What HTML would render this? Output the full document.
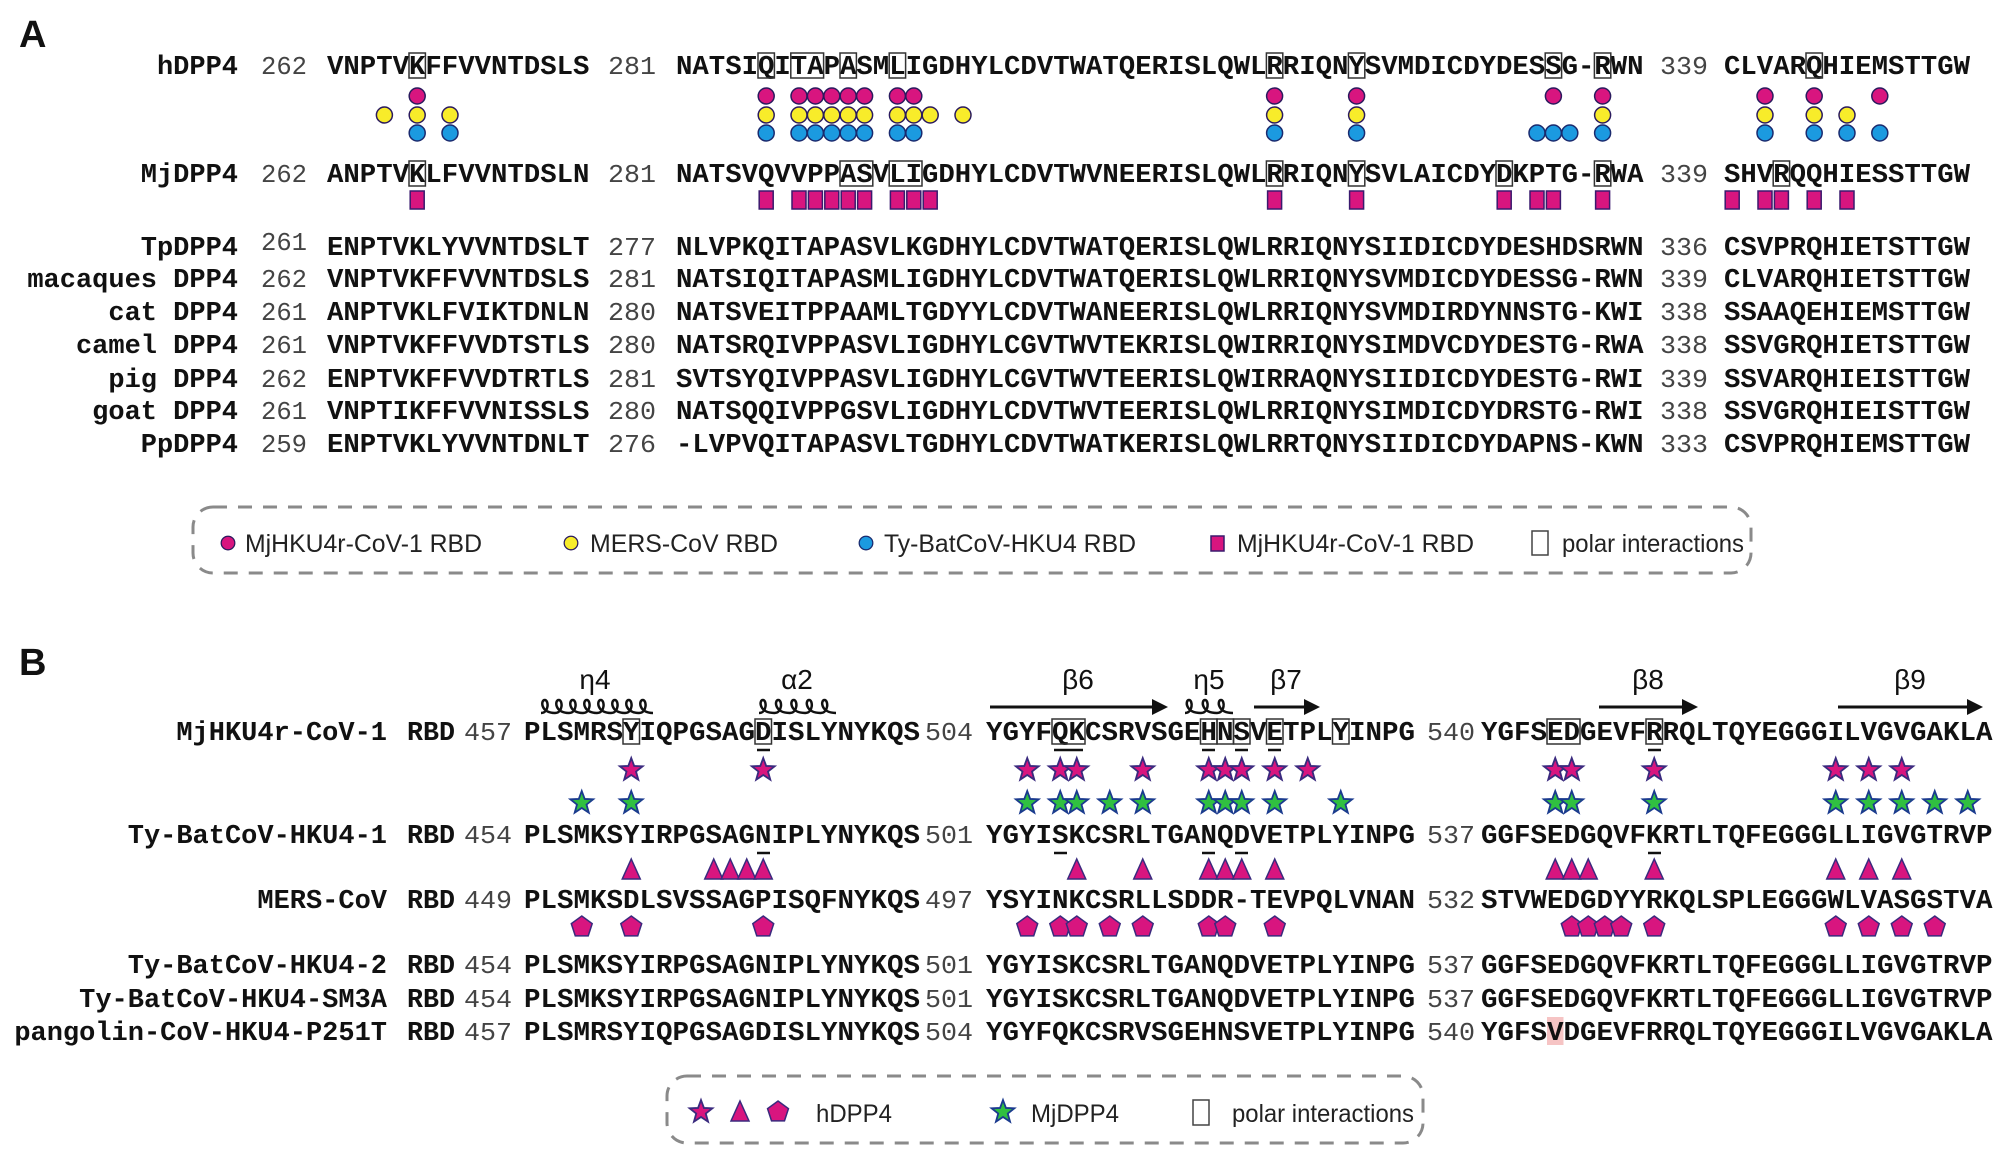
<!DOCTYPE html>
<html><head><meta charset="utf-8"><style>
html,body{margin:0;padding:0;background:#fff}
svg{display:block}
.s{font-family:"Liberation Mono",monospace;font-weight:bold;font-size:27px;fill:#111}
.n{font-family:"Liberation Mono",monospace;font-size:26px;fill:#444}
.nm{font-family:"Liberation Mono",monospace;font-weight:bold;font-size:27px;fill:#111}
.L{font-family:"Liberation Sans",sans-serif;font-size:25px;fill:#222}
.ss{font-family:"Liberation Sans",sans-serif;font-size:28px;fill:#111}
.P{font-family:"Liberation Sans",sans-serif;font-weight:bold;font-size:38px;fill:#111}
.bx{fill:none;stroke:#333;stroke-width:1.5}
.ul{stroke:#111;stroke-width:2.5}
</style></head><body>
<svg width="2008" height="1166" viewBox="0 0 2008 1166" xmlns="http://www.w3.org/2000/svg">
<defs>
<circle id="cm" r="8" fill="#d8157f" stroke="#2a1a5e" stroke-width="1.5"/>
<circle id="cy" r="8" fill="#f8ec2a" stroke="#2a1a5e" stroke-width="1.5"/>
<circle id="cb" r="8" fill="#1b9ae0" stroke="#1a2a6e" stroke-width="1.5"/>
<rect id="sq" x="-7" y="-9" width="14" height="18" fill="#d8157f" stroke="#3a1a6e" stroke-width="1.5"/>
<path id="stm" d="M0,-12 L2.94,-4.05 L11.41,-3.71 L4.76,1.55 L7.05,9.71 L0,5 L-7.05,9.71 L-4.76,1.55 L-11.41,-3.71 L-2.94,-4.05 Z" fill="#d8157f" stroke="#3a2a7e" stroke-width="1.8"/>
<path id="stg" d="M0,-12 L2.94,-4.05 L11.41,-3.71 L4.76,1.55 L7.05,9.71 L0,5 L-7.05,9.71 L-4.76,1.55 L-11.41,-3.71 L-2.94,-4.05 Z" fill="#30c040" stroke="#1a3a8e" stroke-width="1.8"/>
<path id="tr" d="M0,-11 L9,9 L-9,9 Z" fill="#d8157f" stroke="#3a2a7e" stroke-width="1.5"/>
<path id="pe" d="M0,-11 L10.46,-3.4 L6.47,8.9 L-6.47,8.9 L-10.46,-3.4 Z" fill="#d8157f" stroke="#3a2a7e" stroke-width="1.5"/>
</defs>

<!-- Panel A -->
<text class="P" x="19" y="47">A</text>

<g text-anchor="end">
<text class="nm" x="238" y="74">hDPP4</text>
<text class="nm" x="238" y="182">MjDPP4</text>
<text class="nm" x="238" y="255">TpDPP4</text>
<text class="nm" x="238" y="287">macaques DPP4</text>
<text class="nm" x="238" y="320">cat DPP4</text>
<text class="nm" x="238" y="353">camel DPP4</text>
<text class="nm" x="238" y="387">pig DPP4</text>
<text class="nm" x="238" y="419">goat DPP4</text>
<text class="nm" x="238" y="452">PpDPP4</text>
</g>

<g class="n">
<text x="261" y="74" textLength="46" lengthAdjust="spacingAndGlyphs">262</text>
<text x="608" y="74" textLength="48" lengthAdjust="spacingAndGlyphs">281</text>
<text x="1660" y="74" textLength="48" lengthAdjust="spacingAndGlyphs">339</text>
<text x="261" y="182" textLength="46" lengthAdjust="spacingAndGlyphs">262</text>
<text x="608" y="182" textLength="48" lengthAdjust="spacingAndGlyphs">281</text>
<text x="1660" y="182" textLength="48" lengthAdjust="spacingAndGlyphs">339</text>
<text x="261" y="250" textLength="46" lengthAdjust="spacingAndGlyphs">261</text>
<text x="608" y="255" textLength="48" lengthAdjust="spacingAndGlyphs">277</text>
<text x="1660" y="255" textLength="48" lengthAdjust="spacingAndGlyphs">336</text>
<text x="261" y="287" textLength="46" lengthAdjust="spacingAndGlyphs">262</text>
<text x="608" y="287" textLength="48" lengthAdjust="spacingAndGlyphs">281</text>
<text x="1660" y="287" textLength="48" lengthAdjust="spacingAndGlyphs">339</text>
<text x="261" y="320" textLength="46" lengthAdjust="spacingAndGlyphs">261</text>
<text x="608" y="320" textLength="48" lengthAdjust="spacingAndGlyphs">280</text>
<text x="1660" y="320" textLength="48" lengthAdjust="spacingAndGlyphs">338</text>
<text x="261" y="353" textLength="46" lengthAdjust="spacingAndGlyphs">261</text>
<text x="608" y="353" textLength="48" lengthAdjust="spacingAndGlyphs">280</text>
<text x="1660" y="353" textLength="48" lengthAdjust="spacingAndGlyphs">338</text>
<text x="261" y="387" textLength="46" lengthAdjust="spacingAndGlyphs">262</text>
<text x="608" y="387" textLength="48" lengthAdjust="spacingAndGlyphs">281</text>
<text x="1660" y="387" textLength="48" lengthAdjust="spacingAndGlyphs">339</text>
<text x="261" y="419" textLength="46" lengthAdjust="spacingAndGlyphs">261</text>
<text x="608" y="419" textLength="48" lengthAdjust="spacingAndGlyphs">280</text>
<text x="1660" y="419" textLength="48" lengthAdjust="spacingAndGlyphs">338</text>
<text x="261" y="452" textLength="46" lengthAdjust="spacingAndGlyphs">259</text>
<text x="608" y="452" textLength="48" lengthAdjust="spacingAndGlyphs">276</text>
<text x="1660" y="452" textLength="48" lengthAdjust="spacingAndGlyphs">333</text>
</g>

<g class="s">
<text x="327" y="74" textLength="262.4" lengthAdjust="spacingAndGlyphs">VNPTVKFFVVNTDSLS</text>
<text x="676" y="74" textLength="967.6" lengthAdjust="spacingAndGlyphs">NATSIQITAPASMLIGDHYLCDVTWATQERISLQWLRRIQNYSVMDICDYDESSG-RWN</text>
<text x="1724" y="74" textLength="246" lengthAdjust="spacingAndGlyphs">CLVARQHIEMSTTGW</text>
<text x="327" y="182" textLength="262.4" lengthAdjust="spacingAndGlyphs">ANPTVKLFVVNTDSLN</text>
<text x="676" y="182" textLength="967.6" lengthAdjust="spacingAndGlyphs">NATSVQVVPPASVLIGDHYLCDVTWVNEERISLQWLRRIQNYSVLAICDYDKPTG-RWA</text>
<text x="1724" y="182" textLength="246" lengthAdjust="spacingAndGlyphs">SHVRQQHIESSTTGW</text>
<text x="327" y="255" textLength="262.4" lengthAdjust="spacingAndGlyphs">ENPTVKLYVVNTDSLT</text>
<text x="676" y="255" textLength="967.6" lengthAdjust="spacingAndGlyphs">NLVPKQITAPASVLKGDHYLCDVTWATQERISLQWLRRIQNYSIIDICDYDESHDSRWN</text>
<text x="1724" y="255" textLength="246" lengthAdjust="spacingAndGlyphs">CSVPRQHIETSTTGW</text>
<text x="327" y="287" textLength="262.4" lengthAdjust="spacingAndGlyphs">VNPTVKFFVVNTDSLS</text>
<text x="676" y="287" textLength="967.6" lengthAdjust="spacingAndGlyphs">NATSIQITAPASMLIGDHYLCDVTWATQERISLQWLRRIQNYSVMDICDYDESSG-RWN</text>
<text x="1724" y="287" textLength="246" lengthAdjust="spacingAndGlyphs">CLVARQHIETSTTGW</text>
<text x="327" y="320" textLength="262.4" lengthAdjust="spacingAndGlyphs">ANPTVKLFVIKTDNLN</text>
<text x="676" y="320" textLength="967.6" lengthAdjust="spacingAndGlyphs">NATSVEITPPAAMLTGDYYLCDVTWANEERISLQWLRRIQNYSVMDIRDYNNSTG-KWI</text>
<text x="1724" y="320" textLength="246" lengthAdjust="spacingAndGlyphs">SSAAQEHIEMSTTGW</text>
<text x="327" y="353" textLength="262.4" lengthAdjust="spacingAndGlyphs">VNPTVKFFVVDTSTLS</text>
<text x="676" y="353" textLength="967.6" lengthAdjust="spacingAndGlyphs">NATSRQIVPPASVLIGDHYLCGVTWVTEKRISLQWIRRIQNYSIMDVCDYDESTG-RWA</text>
<text x="1724" y="353" textLength="246" lengthAdjust="spacingAndGlyphs">SSVGRQHIETSTTGW</text>
<text x="327" y="387" textLength="262.4" lengthAdjust="spacingAndGlyphs">ENPTVKFFVVDTRTLS</text>
<text x="676" y="387" textLength="967.6" lengthAdjust="spacingAndGlyphs">SVTSYQIVPPASVLIGDHYLCGVTWVTEERISLQWIRRAQNYSIIDICDYDESTG-RWI</text>
<text x="1724" y="387" textLength="246" lengthAdjust="spacingAndGlyphs">SSVARQHIEISTTGW</text>
<text x="327" y="419" textLength="262.4" lengthAdjust="spacingAndGlyphs">VNPTIKFFVVNISSLS</text>
<text x="676" y="419" textLength="967.6" lengthAdjust="spacingAndGlyphs">NATSQQIVPPGSVLIGDHYLCDVTWVTEERISLQWLRRIQNYSIMDICDYDRSTG-RWI</text>
<text x="1724" y="419" textLength="246" lengthAdjust="spacingAndGlyphs">SSVGRQHIEISTTGW</text>
<text x="327" y="452" textLength="262.4" lengthAdjust="spacingAndGlyphs">ENPTVKLYVVNTDNLT</text>
<text x="676" y="452" textLength="967.6" lengthAdjust="spacingAndGlyphs">-LVPVQITAPASVLTGDHYLCDVTWATKERISLQWLRRTQNYSIIDICDYDAPNS-KWN</text>
<text x="1724" y="452" textLength="246" lengthAdjust="spacingAndGlyphs">CSVPRQHIEMSTTGW</text>
</g>

<g class="bx">
<rect x="409" y="53" width="16.4" height="25"/>
<rect x="758" y="53" width="16.4" height="25"/>
<rect x="790.8" y="53" width="32.8" height="25"/>
<rect x="840" y="53" width="16.4" height="25"/>
<rect x="889.2" y="53" width="16.4" height="25"/>
<rect x="1266.4" y="53" width="16.4" height="25"/>
<rect x="1348.4" y="53" width="16.4" height="25"/>
<rect x="1545.2" y="53" width="16.4" height="25"/>
<rect x="1594.4" y="53" width="16.4" height="25"/>
<rect x="1806" y="53" width="16.4" height="25"/>
<rect x="409" y="161" width="16.4" height="25"/>
<rect x="840" y="161" width="32.8" height="25"/>
<rect x="889.2" y="161" width="32.8" height="25"/>
<rect x="1266.4" y="161" width="16.4" height="25"/>
<rect x="1348.4" y="161" width="16.4" height="25"/>
<rect x="1496" y="161" width="16.4" height="25"/>
<rect x="1594.4" y="161" width="16.4" height="25"/>
<rect x="1773.2" y="161" width="16.4" height="25"/>
</g>

<g>
<use href="#cm" x="417.2" y="96"/>
<use href="#cm" x="766.2" y="96"/><use href="#cm" x="799" y="96"/><use href="#cm" x="815.4" y="96"/><use href="#cm" x="831.8" y="96"/><use href="#cm" x="848.2" y="96"/><use href="#cm" x="864.6" y="96"/><use href="#cm" x="897.4" y="96"/><use href="#cm" x="913.8" y="96"/>
<use href="#cm" x="1274.6" y="96"/><use href="#cm" x="1356.6" y="96"/><use href="#cm" x="1553.4" y="96"/><use href="#cm" x="1602.6" y="96"/>
<use href="#cm" x="1765" y="96"/><use href="#cm" x="1814.2" y="96"/><use href="#cm" x="1879.8" y="96"/>

<use href="#cy" x="384.4" y="115"/><use href="#cy" x="417.2" y="115"/><use href="#cy" x="450" y="115"/>
<use href="#cy" x="766.2" y="115"/><use href="#cy" x="799" y="115"/><use href="#cy" x="815.4" y="115"/><use href="#cy" x="831.8" y="115"/><use href="#cy" x="848.2" y="115"/><use href="#cy" x="864.6" y="115"/><use href="#cy" x="897.4" y="115"/><use href="#cy" x="913.8" y="115"/><use href="#cy" x="930.2" y="115"/><use href="#cy" x="963" y="115"/>
<use href="#cy" x="1274.6" y="115"/><use href="#cy" x="1356.6" y="115"/><use href="#cy" x="1602.6" y="115"/>
<use href="#cy" x="1765" y="115"/><use href="#cy" x="1814.2" y="115"/><use href="#cy" x="1847" y="115"/>

<use href="#cb" x="417.2" y="133"/><use href="#cb" x="450" y="133"/>
<use href="#cb" x="766.2" y="133"/><use href="#cb" x="799" y="133"/><use href="#cb" x="815.4" y="133"/><use href="#cb" x="831.8" y="133"/><use href="#cb" x="848.2" y="133"/><use href="#cb" x="864.6" y="133"/><use href="#cb" x="897.4" y="133"/><use href="#cb" x="913.8" y="133"/>
<use href="#cb" x="1274.6" y="133"/><use href="#cb" x="1356.6" y="133"/><use href="#cb" x="1537" y="133"/><use href="#cb" x="1553.4" y="133"/><use href="#cb" x="1569.8" y="133"/><use href="#cb" x="1602.6" y="133"/>
<use href="#cb" x="1765" y="133"/><use href="#cb" x="1814.2" y="133"/><use href="#cb" x="1847" y="133"/><use href="#cb" x="1879.8" y="133"/>
</g>

<g>
<use href="#sq" x="417.2" y="200"/>
<use href="#sq" x="766.2" y="200"/><use href="#sq" x="799" y="200"/><use href="#sq" x="815.4" y="200"/><use href="#sq" x="831.8" y="200"/><use href="#sq" x="848.2" y="200"/><use href="#sq" x="864.6" y="200"/><use href="#sq" x="897.4" y="200"/><use href="#sq" x="913.8" y="200"/><use href="#sq" x="930.2" y="200"/>
<use href="#sq" x="1274.6" y="200"/><use href="#sq" x="1356.6" y="200"/><use href="#sq" x="1504.2" y="200"/><use href="#sq" x="1537" y="200"/><use href="#sq" x="1553.4" y="200"/><use href="#sq" x="1602.6" y="200"/>
<use href="#sq" x="1732.2" y="200"/><use href="#sq" x="1765" y="200"/><use href="#sq" x="1781.4" y="200"/><use href="#sq" x="1814.2" y="200"/><use href="#sq" x="1847" y="200"/>
</g>

<rect x="193" y="507" width="1558" height="66" rx="20" fill="none" stroke="#8a8a8a" stroke-width="3" stroke-dasharray="14 11"/>
<use href="#cm" x="228" y="543" transform="translate(228 543) scale(0.85) translate(-228 -543)"/>
<text class="L" x="245" y="552" textLength="237" lengthAdjust="spacingAndGlyphs">MjHKU4r-CoV-1 RBD</text>
<use href="#cy" x="571" y="543" transform="translate(571 543) scale(0.85) translate(-571 -543)"/>
<text class="L" x="590" y="552" textLength="188" lengthAdjust="spacingAndGlyphs">MERS-CoV RBD</text>
<use href="#cb" x="866" y="543" transform="translate(866 543) scale(0.85) translate(-866 -543)"/>
<text class="L" x="884" y="552" textLength="252" lengthAdjust="spacingAndGlyphs">Ty-BatCoV-HKU4 RBD</text>
<rect x="1211" y="536" width="13" height="15" fill="#d8157f" stroke="#3a1a6e" stroke-width="1.5"/>
<text class="L" x="1237" y="552" textLength="237" lengthAdjust="spacingAndGlyphs">MjHKU4r-CoV-1 RBD</text>
<rect x="1532" y="531" width="16" height="24" fill="none" stroke="#444" stroke-width="1.5"/>
<text class="L" x="1562" y="552" textLength="182" lengthAdjust="spacingAndGlyphs">polar interactions</text>

<!-- Panel B -->
<text class="P" x="19" y="675">B</text>

<g class="ss" text-anchor="middle">
<text x="595" y="689">η4</text>
<text x="797" y="689">α2</text>
<text x="1078" y="689">β6</text>
<text x="1209" y="689">η5</text>
<text x="1286" y="689">β7</text>
<text x="1648" y="689">β8</text>
<text x="1910" y="689">β9</text>
</g>
<g fill="none" stroke="#111" stroke-width="2.5">
<path d="M541,713 C549,713 549,700 544.75,700 C540.5,700 540.5,713 555,713 C563,713 563,700 558.75,700 C554.5,700 554.5,713 569,713 C577,713 577,700 572.75,700 C568.5,700 568.5,713 583,713 C591,713 591,700 586.75,700 C582.5,700 582.5,713 597,713 C605,713 605,700 600.75,700 C596.5,700 596.5,713 611,713 C619,713 619,700 614.75,700 C610.5,700 610.5,713 625,713 C633,713 633,700 628.75,700 C624.5,700 624.5,713 639,713 C647,713 647,700 642.75,700 C638.5,700 638.5,713 653,713"/>
<path d="M759,713 C767,713 767,700 762.9,700 C758.8,700 758.8,713 774.4,713 C782.4,713 782.4,700 778.3,700 C774.2,700 774.2,713 789.8,713 C797.8,713 797.8,700 793.7,700 C789.6,700 789.6,713 805.2,713 C813.2,713 813.2,700 809.1,700 C805,700 805,713 820.6,713 C828.6,713 828.6,700 824.5,700 C820.4,700 820.4,713 836,713"/>
<path d="M1185,713 C1193,713 1193,700 1189,700 C1185,700 1185,713 1201,713 C1209,713 1209,700 1205,700 C1201,700 1201,713 1217,713 C1225,713 1225,700 1221,700 C1217,700 1217,713 1233,713"/>
<line x1="990" y1="707" x2="1155" y2="707" stroke-width="3"/>
<line x1="1254" y1="707" x2="1307" y2="707" stroke-width="3"/>
<line x1="1599" y1="707" x2="1685" y2="707" stroke-width="3"/>
<line x1="1838" y1="707" x2="1970" y2="707" stroke-width="3"/>
</g>
<g fill="#111">
<path d="M1152,699 L1168,707 L1152,715 Z"/>
<path d="M1304,699 L1320,707 L1304,715 Z"/>
<path d="M1682,699 L1698,707 L1682,715 Z"/>
<path d="M1967,699 L1983,707 L1967,715 Z"/>
</g>

<g text-anchor="end">
<text class="nm" x="387" y="740">MjHKU4r-CoV-1</text>
<text class="nm" x="387" y="843">Ty-BatCoV-HKU4-1</text>
<text class="nm" x="387" y="908">MERS-CoV</text>
<text class="nm" x="387" y="973">Ty-BatCoV-HKU4-2</text>
<text class="nm" x="387" y="1007">Ty-BatCoV-HKU4-SM3A</text>
<text class="nm" x="387" y="1040">pangolin-CoV-HKU4-P251T</text>
</g>
<g class="nm">
<text x="407" y="740" textLength="48" lengthAdjust="spacingAndGlyphs">RBD</text>
<text x="407" y="843" textLength="48" lengthAdjust="spacingAndGlyphs">RBD</text>
<text x="407" y="908" textLength="48" lengthAdjust="spacingAndGlyphs">RBD</text>
<text x="407" y="973" textLength="48" lengthAdjust="spacingAndGlyphs">RBD</text>
<text x="407" y="1007" textLength="48" lengthAdjust="spacingAndGlyphs">RBD</text>
<text x="407" y="1040" textLength="48" lengthAdjust="spacingAndGlyphs">RBD</text>
</g>
<g class="n">
<text x="464" y="740" textLength="48" lengthAdjust="spacingAndGlyphs">457</text>
<text x="925" y="740" textLength="48" lengthAdjust="spacingAndGlyphs">504</text>
<text x="1427" y="740" textLength="48" lengthAdjust="spacingAndGlyphs">540</text>
<text x="464" y="843" textLength="48" lengthAdjust="spacingAndGlyphs">454</text>
<text x="925" y="843" textLength="48" lengthAdjust="spacingAndGlyphs">501</text>
<text x="1427" y="843" textLength="48" lengthAdjust="spacingAndGlyphs">537</text>
<text x="464" y="908" textLength="48" lengthAdjust="spacingAndGlyphs">449</text>
<text x="925" y="908" textLength="48" lengthAdjust="spacingAndGlyphs">497</text>
<text x="1427" y="908" textLength="48" lengthAdjust="spacingAndGlyphs">532</text>
<text x="464" y="973" textLength="48" lengthAdjust="spacingAndGlyphs">454</text>
<text x="925" y="973" textLength="48" lengthAdjust="spacingAndGlyphs">501</text>
<text x="1427" y="973" textLength="48" lengthAdjust="spacingAndGlyphs">537</text>
<text x="464" y="1007" textLength="48" lengthAdjust="spacingAndGlyphs">454</text>
<text x="925" y="1007" textLength="48" lengthAdjust="spacingAndGlyphs">501</text>
<text x="1427" y="1007" textLength="48" lengthAdjust="spacingAndGlyphs">537</text>
<text x="464" y="1040" textLength="48" lengthAdjust="spacingAndGlyphs">457</text>
<text x="925" y="1040" textLength="48" lengthAdjust="spacingAndGlyphs">504</text>
<text x="1427" y="1040" textLength="48" lengthAdjust="spacingAndGlyphs">540</text>
</g>

<rect x="1547" y="1017" width="16.5" height="28" fill="#f6c4c4"/>

<g class="s">
<text x="524" y="740" textLength="396" lengthAdjust="spacingAndGlyphs">PLSMRSYIQPGSAGDISLYNYKQS</text>
<text x="986" y="740" textLength="429" lengthAdjust="spacingAndGlyphs">YGYFQKCSRVSGEHNSVETPLYINPG</text>
<text x="1481" y="740" textLength="511.5" lengthAdjust="spacingAndGlyphs">YGFSEDGEVFRRQLTQYEGGGILVGVGAKLA</text>
<text x="524" y="843" textLength="396" lengthAdjust="spacingAndGlyphs">PLSMKSYIRPGSAGNIPLYNYKQS</text>
<text x="986" y="843" textLength="429" lengthAdjust="spacingAndGlyphs">YGYISKCSRLTGANQDVETPLYINPG</text>
<text x="1481" y="843" textLength="511.5" lengthAdjust="spacingAndGlyphs">GGFSEDGQVFKRTLTQFEGGGLLIGVGTRVP</text>
<text x="524" y="908" textLength="396" lengthAdjust="spacingAndGlyphs">PLSMKSDLSVSSAGPISQFNYKQS</text>
<text x="986" y="908" textLength="429" lengthAdjust="spacingAndGlyphs">YSYINKCSRLLSDDR-TEVPQLVNAN</text>
<text x="1481" y="908" textLength="511.5" lengthAdjust="spacingAndGlyphs">STVWEDGDYYRKQLSPLEGGGWLVASGSTVA</text>
<text x="524" y="973" textLength="396" lengthAdjust="spacingAndGlyphs">PLSMKSYIRPGSAGNIPLYNYKQS</text>
<text x="986" y="973" textLength="429" lengthAdjust="spacingAndGlyphs">YGYISKCSRLTGANQDVETPLYINPG</text>
<text x="1481" y="973" textLength="511.5" lengthAdjust="spacingAndGlyphs">GGFSEDGQVFKRTLTQFEGGGLLIGVGTRVP</text>
<text x="524" y="1007" textLength="396" lengthAdjust="spacingAndGlyphs">PLSMKSYIRPGSAGNIPLYNYKQS</text>
<text x="986" y="1007" textLength="429" lengthAdjust="spacingAndGlyphs">YGYISKCSRLTGANQDVETPLYINPG</text>
<text x="1481" y="1007" textLength="511.5" lengthAdjust="spacingAndGlyphs">GGFSEDGQVFKRTLTQFEGGGLLIGVGTRVP</text>
<text x="524" y="1040" textLength="396" lengthAdjust="spacingAndGlyphs">PLSMRSYIQPGSAGDISLYNYKQS</text>
<text x="986" y="1040" textLength="429" lengthAdjust="spacingAndGlyphs">YGYFQKCSRVSGEHNSVETPLYINPG</text>
<text x="1481" y="1040" textLength="511.5" lengthAdjust="spacingAndGlyphs">YGFSVDGEVFRRQLTQYEGGGILVGVGAKLA</text>
</g>

<g class="bx">
<rect x="623" y="719" width="16.5" height="25"/>
<rect x="755" y="719" width="16.5" height="25"/>
<rect x="1052" y="719" width="33" height="25"/>
<rect x="1200.5" y="719" width="16.5" height="25"/>
<rect x="1217" y="719" width="16.5" height="25"/>
<rect x="1233.5" y="719" width="16.5" height="25"/>
<rect x="1266.5" y="719" width="16.5" height="25"/>
<rect x="1332.5" y="719" width="16.5" height="25"/>
<rect x="1547" y="719" width="33" height="25"/>
<rect x="1646" y="719" width="16.5" height="25"/>
</g>
<g class="ul">
<line x1="757" y1="750" x2="770" y2="750"/>
<line x1="1054" y1="750" x2="1083" y2="750"/>
<line x1="1202" y1="750" x2="1215" y2="750"/>
<line x1="1235" y1="750" x2="1248" y2="750"/>
<line x1="1268" y1="750" x2="1281" y2="750"/>
<line x1="1648" y1="750" x2="1661" y2="750"/>
<line x1="757" y1="853" x2="770" y2="853"/>
<line x1="1054" y1="853" x2="1067" y2="853"/>
<line x1="1202" y1="853" x2="1215" y2="853"/>
<line x1="1235" y1="853" x2="1248" y2="853"/>
<line x1="1648" y1="853" x2="1661" y2="853"/>
</g>

<g>
<use href="#stm" x="631.25" y="770"/><use href="#stm" x="763.25" y="770"/>
<use href="#stm" x="1027.25" y="770"/><use href="#stm" x="1060.25" y="770"/><use href="#stm" x="1076.75" y="770"/><use href="#stm" x="1142.75" y="770"/><use href="#stm" x="1208.75" y="770"/><use href="#stm" x="1225.25" y="770"/><use href="#stm" x="1241.75" y="770"/><use href="#stm" x="1274.75" y="770"/><use href="#stm" x="1307.75" y="770"/>
<use href="#stm" x="1555.25" y="770"/><use href="#stm" x="1571.75" y="770"/><use href="#stm" x="1654.25" y="770"/><use href="#stm" x="1835.75" y="770"/><use href="#stm" x="1868.75" y="770"/><use href="#stm" x="1901.75" y="770"/>
</g>
<g>
<use href="#stg" x="581.75" y="803"/><use href="#stg" x="631.25" y="803"/>
<use href="#stg" x="1027.25" y="803"/><use href="#stg" x="1060.25" y="803"/><use href="#stg" x="1076.75" y="803"/><use href="#stg" x="1109.75" y="803"/><use href="#stg" x="1142.75" y="803"/><use href="#stg" x="1208.75" y="803"/><use href="#stg" x="1225.25" y="803"/><use href="#stg" x="1241.75" y="803"/><use href="#stg" x="1274.75" y="803"/><use href="#stg" x="1340.75" y="803"/>
<use href="#stg" x="1555.25" y="803"/><use href="#stg" x="1571.75" y="803"/><use href="#stg" x="1654.25" y="803"/><use href="#stg" x="1835.75" y="803"/><use href="#stg" x="1868.75" y="803"/><use href="#stg" x="1901.75" y="803"/><use href="#stg" x="1934.75" y="803"/><use href="#stg" x="1967.75" y="803"/>
</g>
<g>
<use href="#tr" x="631.25" y="870"/><use href="#tr" x="713.75" y="870"/><use href="#tr" x="730.25" y="870"/><use href="#tr" x="746.75" y="870"/><use href="#tr" x="763.25" y="870"/>
<use href="#tr" x="1076.75" y="870"/><use href="#tr" x="1142.75" y="870"/><use href="#tr" x="1208.75" y="870"/><use href="#tr" x="1225.25" y="870"/><use href="#tr" x="1241.75" y="870"/><use href="#tr" x="1274.75" y="870"/>
<use href="#tr" x="1555.25" y="870"/><use href="#tr" x="1571.75" y="870"/><use href="#tr" x="1588.25" y="870"/><use href="#tr" x="1654.25" y="870"/><use href="#tr" x="1835.75" y="870"/><use href="#tr" x="1868.75" y="870"/><use href="#tr" x="1901.75" y="870"/>
</g>
<g>
<use href="#pe" x="581.75" y="927"/><use href="#pe" x="631.25" y="927"/><use href="#pe" x="763.25" y="927"/>
<use href="#pe" x="1027.25" y="927"/><use href="#pe" x="1060.25" y="927"/><use href="#pe" x="1076.75" y="927"/><use href="#pe" x="1109.75" y="927"/><use href="#pe" x="1142.75" y="927"/><use href="#pe" x="1208.75" y="927"/><use href="#pe" x="1225.25" y="927"/><use href="#pe" x="1274.75" y="927"/>
<use href="#pe" x="1571.75" y="927"/><use href="#pe" x="1588.25" y="927"/><use href="#pe" x="1604.75" y="927"/><use href="#pe" x="1621.25" y="927"/><use href="#pe" x="1654.25" y="927"/><use href="#pe" x="1835.75" y="927"/><use href="#pe" x="1868.75" y="927"/><use href="#pe" x="1901.75" y="927"/><use href="#pe" x="1934.75" y="927"/>
</g>

<rect x="667" y="1076" width="756" height="67" rx="20" fill="none" stroke="#8a8a8a" stroke-width="3" stroke-dasharray="14 11"/>
<use href="#stm" x="701" y="1112"/>
<use href="#tr" x="740" y="1112"/>
<use href="#pe" x="778" y="1112"/>
<text class="L" x="816" y="1122" textLength="76" lengthAdjust="spacingAndGlyphs">hDPP4</text>
<use href="#stg" x="1003" y="1112"/>
<text class="L" x="1031" y="1122" textLength="88" lengthAdjust="spacingAndGlyphs">MjDPP4</text>
<rect x="1193" y="1100" width="16" height="25" fill="none" stroke="#444" stroke-width="1.5"/>
<text class="L" x="1232" y="1122" textLength="182" lengthAdjust="spacingAndGlyphs">polar interactions</text>
</svg>
</body></html>
